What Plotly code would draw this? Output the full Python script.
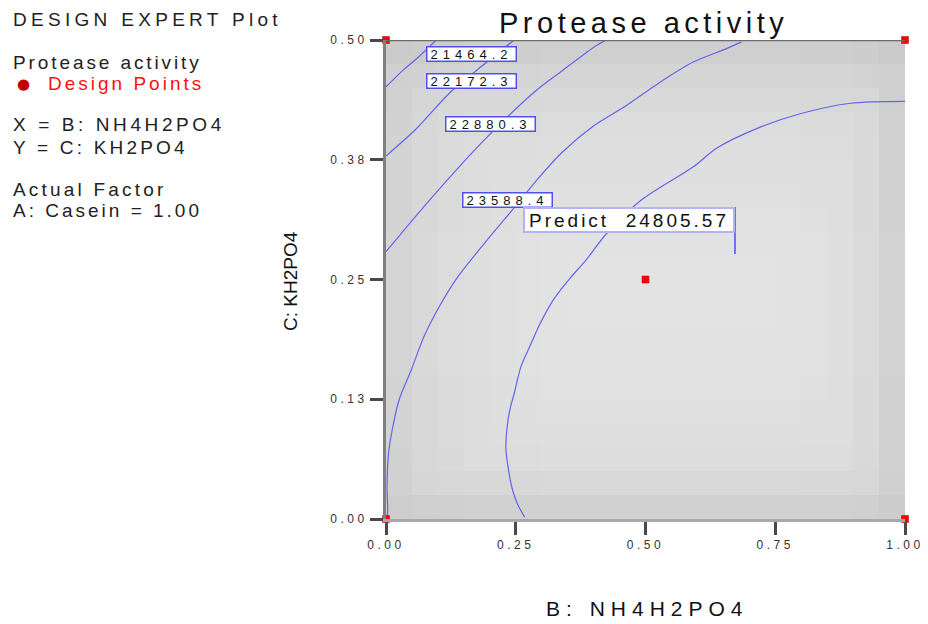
import plotly.graph_objects as go
import numpy as np

# ---------------- data ----------------
title_text = "Protease activity"
x_title = "B: NH4H2PO4"
y_title = "C: KH2PO4"

x_tick_vals = [0.0, 0.25, 0.5, 0.75, 1.0]
x_tick_labels = ["0.00", "0.25", "0.50", "0.75", "1.00"]
y_tick_vals = [0.0, 0.125, 0.25, 0.375, 0.5]
y_tick_labels = ["0.00", "0.13", "0.25", "0.38", "0.50"]

# design points (B, C)
dp_x = [0.0, 0.0, 1.0, 1.0, 0.5]
dp_y = [0.0, 0.5, 0.0, 0.5, 0.25]

# contour lines (B, C)
c1_x = [0.0, 0.03, 0.06, 0.097]
c1_y = [0.451, 0.467, 0.481, 0.5]
c2_x = [0.0, 0.056, 0.123, 0.183, 0.247]
c2_y = [0.379, 0.406, 0.445, 0.472, 0.5]
c3_x = [0.0, 0.089, 0.19, 0.291, 0.335, 0.399, 0.424]
c3_y = [0.279, 0.336, 0.396, 0.448, 0.466, 0.492, 0.5]
c4_x = [0.0, 0.003, 0.002, 0.005, 0.012, 0.025, 0.049, 0.072, 0.103, 0.136, 0.19,
        0.244, 0.291, 0.338, 0.399, 0.464, 0.528, 0.592, 0.656, 0.685]
c4_y = [0.0, 0.006, 0.034, 0.069, 0.093, 0.124, 0.156, 0.189, 0.222, 0.251, 0.288,
        0.323, 0.354, 0.382, 0.41, 0.432, 0.456, 0.477, 0.491, 0.498]
c5_x = [0.267, 0.254, 0.244, 0.235, 0.231, 0.235, 0.24, 0.247, 0.26, 0.277, 0.297,
        0.324, 0.354, 0.385, 0.425, 0.492, 0.593, 0.637, 0.721, 0.798, 0.895, 1.0]
c5_y = [0.002, 0.015, 0.03, 0.055, 0.075, 0.103, 0.117, 0.131, 0.159, 0.18, 0.204,
        0.23, 0.251, 0.27, 0.298, 0.333, 0.368, 0.387, 0.409, 0.423, 0.434, 0.436]
contours = [(c1_x, c1_y), (c2_x, c2_y), (c3_x, c3_y), (c4_x, c4_y), (c5_x, c5_y)]

# contour labels and their positions (B, C)
label_texts = ["21464.2", "22172.3", "22880.3", "23588.4"]
label_x = [0.165, 0.165, 0.202, 0.235]
label_y = [0.4854, 0.4572, 0.4123, 0.333]

predict_text = "Predict  24805.57"
predict_x, predict_y = 0.468, 0.3121

# background shading (gray deficit per row top->bottom, per column left->right)
row_shade = [-20, -14, -10, -7, -5, -4, -3, -2, -1, 0, 0, 0, -1, -1, -2, -3, -4, -6, -10, -17]
col_shade = [-15, -10, -7, -5, -3, -2, -1, 0, 0, 0, 0, 0, 0, 0, 0, -1, -2, -4, -8, -16]
base_gray = 227

# (text, y centre in px, letter spacing)
legend_lines = [
    ("DESIGN EXPERT Plot", 19, 4.3),
    ("Protease activity", 63, 2.9),
    ("X = B: NH4H2PO4", 125, 3.6),
    ("Y = C: KH2PO4", 147, 3.2),
    ("Actual Factor", 189, 3.2),
    ("A: Casein = 1.00", 210, 3.0),
]

# ---------------- figure ----------------
W, H = 928, 624
FONT = "Liberation Sans"


def px(x):
    return x / W


def py(y):
    return 1 - y / H


def spaced(s, sp):
    return f'<span style="letter-spacing:{sp}px">{s}</span>'


r = np.array(row_shade[::-1], dtype=float)[:, None]
c = np.array(col_shade, dtype=float)[None, :]
z = base_gray + np.minimum(r, c) + 0.3 * np.maximum(r, c)

fig = go.Figure()
fig.add_trace(go.Heatmap(
    z=z, x0=0.025, dx=0.05, y0=0.0125, dy=0.025,
    colorscale=[[0, "rgb(170,170,170)"], [1, "rgb(230,230,230)"]],
    zmin=170, zmax=230, showscale=False, hoverinfo="skip", zsmooth=False))

for cx, cy in contours:
    fig.add_trace(go.Scatter(
        x=cx, y=cy, mode="lines",
        line=dict(color="#6464f0", width=1.2, shape="spline", smoothing=0.8),
        showlegend=False, hoverinfo="skip"))

fig.add_trace(go.Scatter(
    x=dp_x, y=dp_y, mode="markers",
    marker=dict(symbol="square", size=7, color="#ff0000",
                line=dict(color="#b00000", width=0.5)),
    cliponaxis=False, showlegend=False, hoverinfo="skip"))

annotations = []
# title
annotations.append(dict(x=px(643), y=py(23), xref="paper", yref="paper",
                        text=spaced(title_text, 4.5), showarrow=False,
                        font=dict(family=FONT, size=29, color="#111111"),
                        xanchor="center", yanchor="middle"))
# legend block
for txt, yy, sp in legend_lines:
    annotations.append(dict(x=px(11), y=py(yy), xref="paper", yref="paper",
                            text=spaced(txt, sp), showarrow=False,
                            font=dict(family=FONT, size=19, color="#222222"),
                            xanchor="left", yanchor="middle"))
annotations.append(dict(x=px(23), y=py(84), xref="paper", yref="paper",
                        text="●", showarrow=False,
                        font=dict(family="DejaVu Sans", size=15, color="#c00000"),
                        xanchor="center", yanchor="middle"))
annotations.append(dict(x=px(46), y=py(84), xref="paper", yref="paper",
                        text=spaced("Design Points", 3.0), showarrow=False,
                        font=dict(family=FONT, size=19, color="#ff1010"),
                        xanchor="left", yanchor="middle"))
# axis titles
annotations.append(dict(x=px(647), y=py(608), xref="paper", yref="paper",
                        text=spaced(x_title, 6), showarrow=False,
                        font=dict(family=FONT, size=21, color="#111111"),
                        xanchor="center", yanchor="middle"))
annotations.append(dict(x=px(290), y=py(281), xref="paper", yref="paper",
                        text=y_title, showarrow=False, textangle=-90,
                        font=dict(family=FONT, size=19, color="#111111"),
                        xanchor="center", yanchor="middle"))
# contour labels
for t, lx, ly in zip(label_texts, label_x, label_y):
    annotations.append(dict(x=lx, y=ly, xref="x", yref="y",
                            text=spaced(t, 5), showarrow=False,
                            font=dict(family=FONT, size=13, color="#111111"),
                            bgcolor="white", bordercolor="#5050f0", borderwidth=1.5,
                            borderpad=1, width=86, height=11,
                            xanchor="center", yanchor="middle"))
annotations.append(dict(x=predict_x, y=predict_y, xref="x", yref="y",
                        text=spaced(predict_text, 3), showarrow=False,
                        font=dict(family=FONT, size=19, color="#111111"),
                        bgcolor="white", bordercolor="#b4b4f4", borderwidth=2,
                        borderpad=1, width=206, height=20,
                        xanchor="center", yanchor="middle"))

shapes = [
    # top frame line
    dict(type="line", xref="x", yref="y", x0=0, x1=1, y0=0.5, y1=0.5,
         line=dict(color="#6c6c6c", width=2.5), layer="above"),
    # predict flag pole
    dict(type="line", xref="paper", yref="paper", x0=px(735), x1=px(735),
         y0=py(207), y1=py(254), line=dict(color="#7070f0", width=2)),
]

fig.update_layout(
    width=W, height=H,
    margin=dict(l=0, r=0, t=0, b=0, autoexpand=False),
    paper_bgcolor="white", plot_bgcolor="white",
    showlegend=False,
    annotations=annotations, shapes=shapes,
    xaxis=dict(domain=[386 / W, 905 / W], range=[0, 1], showgrid=False, zeroline=False,
               automargin=False,
               showline=True, linecolor="#a9a9a9", linewidth=3,
               ticks="outside", ticklen=13, tickwidth=2.5, tickcolor="#4a4a4a",
               tickvals=x_tick_vals, ticktext=[spaced(t, 3.5) for t in x_tick_labels],
               tickfont=dict(family=FONT, size=12, color="#333333"), fixedrange=True),
    yaxis=dict(domain=[105 / H, 584 / H], range=[0, 0.5], showgrid=False, zeroline=False,
               automargin=False,
               showline=True, linecolor="#808080", linewidth=3,
               ticks="outside", ticklen=13, tickwidth=3, tickcolor="#4a4a4a",
               tickvals=y_tick_vals, ticktext=[spaced(t, 3.5) for t in y_tick_labels],
               tickfont=dict(family=FONT, size=12, color="#333333"), fixedrange=True),
)

fig.write_html("out.html")
